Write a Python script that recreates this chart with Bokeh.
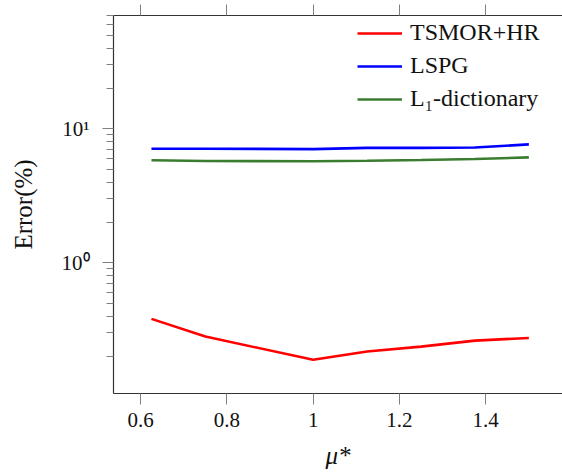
from bokeh.plotting import figure
from bokeh.models import Range1d, LinearAxis, LogAxis, FixedTicker, Legend, LegendItem
from bokeh.embed import file_html
from bokeh.resources import INLINE

# ---- data ----
mu = [0.625, 0.75, 1.0, 1.125, 1.25, 1.375, 1.5]
err_tsmor = [0.382, 0.282, 0.189, 0.218, 0.237, 0.263, 0.275]
err_lspg = [7.1, 7.1, 7.05, 7.2, 7.2, 7.25, 7.65]
err_l1 = [5.82, 5.75, 5.73, 5.78, 5.85, 5.95, 6.12]

series_names = ["TSMOR+HR", "LSPG", "L\u2081-dictionary"]
series_colors = ["#ff0000", "#0000ff", "#3b7d30"]

x_ticks = [0.6, 0.8, 1.0, 1.2, 1.4]
x_tick_labels = ["0.6", "0.8", "1", "1.2", "1.4"]
y_ticks = [1, 10]
y_tick_labels = ["10\u2070", "10\u00b9"]
y_minor = [0.2, 0.3, 0.4, 0.5, 0.6, 0.7, 0.8, 0.9,
           2, 3, 4, 5, 6, 7, 8, 9,
           20, 30, 40, 50, 60, 70]

FONT = "Liberation Serif"
AX = "#333333"
TICK = "#808080"

p = figure(width=562, height=473, output_backend="svg", toolbar_location=None,
           y_axis_type="log", x_axis_location=None, y_axis_location=None,
           x_range=Range1d(0.537, 1.578), y_range=Range1d(0.106, 70),
           min_border_left=113, min_border_right=0, min_border_top=15,
           min_border_bottom=80)
p.outline_line_color = None
p.xgrid.visible = False
p.ygrid.visible = False
p.background_fill_color = "white"
p.border_fill_color = "white"

# bottom axis
xb = LinearAxis(ticker=FixedTicker(ticks=x_ticks),
                major_label_overrides=dict(zip(x_ticks, x_tick_labels)),
                axis_label="\u03bc*")
# top axis
xt = LinearAxis(ticker=FixedTicker(ticks=x_ticks),
                major_label_overrides={t: "" for t in x_ticks})
# left axis
yl = LogAxis(ticker=FixedTicker(ticks=y_ticks, minor_ticks=y_minor),
             major_label_overrides=dict(zip(y_ticks, y_tick_labels)),
             axis_label="Error(%)")

for ax in (xb, xt, yl):
    ax.axis_line_color = AX
    ax.axis_line_width = 1.2
    ax.major_tick_line_color = TICK
    ax.minor_tick_line_color = TICK
    ax.major_tick_in = 0
    ax.major_tick_out = 11
    ax.minor_tick_in = 0
    ax.minor_tick_out = 7
    ax.major_label_text_font = FONT
    ax.major_label_text_font_size = "21px"
    ax.major_label_text_color = "#111111"
    ax.axis_label_text_font = FONT
    ax.axis_label_text_font_size = "25px"
    ax.axis_label_text_color = "#111111"

xb.minor_tick_line_color = None
xt.minor_tick_line_color = None
xt.major_label_standoff = 0
xt.major_label_text_font_size = "0px"
xb.major_label_standoff = 8
xb.axis_label_standoff = 12
xb.axis_label_text_font_style = "italic"
yl.major_label_standoff = 13
yl.axis_label_standoff = 22
yl.axis_label_text_font_style = "normal"

p.add_layout(xb, "below")
p.add_layout(xt, "above")
p.add_layout(yl, "left")

renderers = []
for ys, c in zip([err_tsmor, err_lspg, err_l1], series_colors):
    r = p.line(mu, ys, line_color=c, line_width=2.6)
    renderers.append(r)

legend = Legend(items=[LegendItem(label=n, renderers=[r]) for n, r in zip(series_names, renderers)],
                location=(244, 281), padding=0, margin=0, spacing=6,
                glyph_width=45, glyph_height=22, label_height=22,
                label_standoff=8, border_line_color=None,
                background_fill_alpha=0,
                label_text_font=FONT, label_text_font_size="24px",
                label_text_color="#111111")
p.add_layout(legend, "center")

open("out.html", "w").write(file_html(p, INLINE))
